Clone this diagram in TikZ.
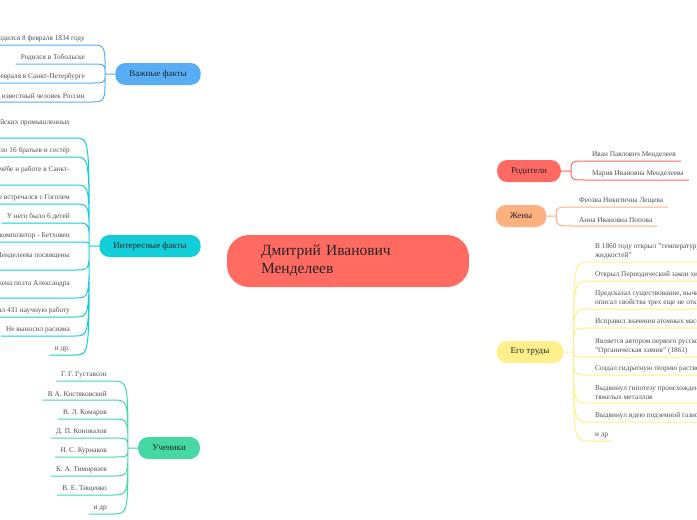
\documentclass[tikz,border=0pt]{standalone}
\usepackage{fontspec}
\setmainfont{Liberation Serif}
\usetikzlibrary{positioning,backgrounds}
\definecolor{mapink}{HTML}{262626}
\definecolor{leafink}{HTML}{505050}
\definecolor{rootred}{HTML}{FF6A61}
\definecolor{factblue}{HTML}{58AEF4}
\definecolor{factcyan}{HTML}{12CED8}
\definecolor{pupilgreen}{HTML}{45D8A2}
\definecolor{parentred}{HTML}{FF6962}
\definecolor{wifeorange}{HTML}{FFB07F}
\definecolor{workyellow}{HTML}{FFF08C}

\begin{document}
\begin{tikzpicture}[x=1pt, y=-1pt,
  every node/.style={font=\fontsize{7.3}{9}\selectfont},
  root/.style={fill=rootred, rounded corners=22pt, minimum height=52pt, text width=174pt, inner xsep=34pt, align=left, text=mapink, font=\fontsize{15.5}{18}\selectfont},
  branch/.style={rounded corners=10pt, minimum height=22pt, inner xsep=14pt, text=mapink, font=\fontsize{9}{11}\selectfont},
  leaf/.style={text=leafink, inner xsep=5pt, inner ysep=3pt, align=left},
  link/.style={line width=1.4pt},
  twig/.style={line width=1pt}]

  \useasboundingbox (0,0) rectangle (697,520);
  \fill[white] (0,0) rectangle (697,520);
  \clip (0,0) rectangle (697,520);

  % centre and main branches
  \node[root] (mend) at (348,261) {Дмитрий Иванович\\Менделеев};
  \node[branch, fill=factblue] (imp) at (158,74) {Важные факты};
  \node[branch, fill=factcyan] (int) at (150,246) {Интересные факты};
  \node[branch, fill=pupilgreen] (stu) at (169,448) {Ученики};
  \node[branch, fill=parentred] (par) at (529,171) {Родители};
  \node[branch, fill=wifeorange] (wiv) at (521,216) {Жены};
  \node[branch, fill=workyellow] (wrk) at (530,352) {Его труды};

  \coordinate[left=10pt of imp] (impv);
  \coordinate[left=10pt of int] (intv);
  \coordinate[left=10pt of stu] (stuv);
  \coordinate[right=10pt of par] (parv);
  \coordinate[right=10pt of wiv] (wivv);
  \coordinate[right=10pt of wrk] (wrkv);

  \begin{scope}[on background layer]
    \draw[link, factblue] ([xshift=38pt]mend.north west) to[out=90,in=0] (imp.east);
    \draw[link, factcyan] ([xshift=4pt,yshift=8pt]mend.west) to[out=180,in=0] (int.east);
    \draw[link, pupilgreen] ([xshift=38pt]mend.south west) to[out=-90,in=0] (stu.east);
    \draw[link, parentred] ([xshift=-34pt]mend.north east) to[out=90,in=180] (par.west);
    \draw[link, wifeorange] ([xshift=-11pt,yshift=-4pt]mend.north east) to[out=90,in=180] (wiv.west);
    \draw[link, workyellow] ([xshift=-11pt,yshift=4pt]mend.south east) to[out=-90,in=180] (wrk.west);
  \end{scope}

  % important facts
  \node[leaf, anchor=south east] (imp1) at (90,45) {Родился 8 февраля 1834 году};
  \node[leaf, anchor=south east] (imp2) at (90,64) {Родился в Тобольске};
  \node[leaf, anchor=south east] (imp3) at (90,83) {Умер 2 февраля в Санкт-Петербурге};
  \node[leaf, anchor=south east] (imp4) at (90,102) {Самый известный человек России};
  \draw[twig, factblue] (imp.west) -- (impv)
    (impv) .. controls (impv |- imp1.south) .. (imp1.south east) -- (imp1.south west)
    (impv) .. controls (impv |- imp2.south) .. (imp2.south east) -- (imp2.south west)
    (impv) .. controls (impv |- imp3.south) .. (imp3.south east) -- (imp3.south west)
    (impv) .. controls (impv |- imp4.south) .. (imp4.south east) -- (imp4.south west);

  % interesting facts
  \node[leaf, anchor=south east] (int1) at (75,138) {Был советником российских промышленных\\предприятий};
  \node[leaf, anchor=south east] (int2) at (75,157) {У него было 16 братьев и сестёр};
  \node[leaf, anchor=south east] (int3) at (75,185) {Жил в бедности при учёбе и работе в Санкт-\\Петербурге};
  \node[leaf, anchor=south east] (int4) at (75,204) {Дважды встречался с Гоголем};
  \node[leaf, anchor=south east] (int5) at (75,223) {У него было 6 детей};
  \node[leaf, anchor=south east] (int6) at (75,242) {Его любимый композитор - Бетховен};
  \node[leaf, anchor=south east] (int7) at (75,270) {Дочери Дмитрия Ивановича Менделеева посвящены\\стихи};
  \node[leaf, anchor=south east] (int8) at (75,298) {Его дочь — жена поэта Александра\\Блока};
  \node[leaf, anchor=south east] (int9) at (75,317) {Написал 431 научную работу};
  \node[leaf, anchor=south east] (int10) at (75,336) {Не выносил расизма};
  \node[leaf, anchor=south east] (int11) at (75,355) {и др.};
  \draw[twig, factcyan] (int.west) -- (intv)
    (intv) .. controls (intv |- int1.south) .. (int1.south east) -- (int1.south west)
    (intv) .. controls (intv |- int2.south) .. (int2.south east) -- (int2.south west)
    (intv) .. controls (intv |- int3.south) .. (int3.south east) -- (int3.south west)
    (intv) .. controls (intv |- int4.south) .. (int4.south east) -- (int4.south west)
    (intv) .. controls (intv |- int5.south) .. (int5.south east) -- (int5.south west)
    (intv) .. controls (intv |- int6.south) .. (int6.south east) -- (int6.south west)
    (intv) .. controls (intv |- int7.south) .. (int7.south east) -- (int7.south west)
    (intv) .. controls (intv |- int8.south) .. (int8.south east) -- (int8.south west)
    (intv) .. controls (intv |- int9.south) .. (int9.south east) -- (int9.south west)
    (intv) .. controls (intv |- int10.south) .. (int10.south east) -- (int10.south west)
    (intv) .. controls (intv |- int11.south) .. (int11.south east) -- (int11.south west);

  % pupils
  \node[leaf, anchor=south east] (stu1) at (112,381) {Г. Г. Густавсон};
  \node[leaf, anchor=south east] (stu2) at (112,400) {В А. Кистяковский};
  \node[leaf, anchor=south east] (stu3) at (112,419) {В. Л. Комаров};
  \node[leaf, anchor=south east] (stu4) at (112,438) {Д. П. Коновалов};
  \node[leaf, anchor=south east] (stu5) at (112,457) {Н. С. Курнаков};
  \node[leaf, anchor=south east] (stu6) at (112,476) {К. А. Тимирязев};
  \node[leaf, anchor=south east] (stu7) at (112,495) {В. Е. Тищенко};
  \node[leaf, anchor=south east] (stu8) at (112,514) {и др};
  \draw[twig, pupilgreen] (stu.west) -- (stuv)
    (stuv) .. controls (stuv |- stu1.south) .. (stu1.south east) -- (stu1.south west)
    (stuv) .. controls (stuv |- stu2.south) .. (stu2.south east) -- (stu2.south west)
    (stuv) .. controls (stuv |- stu3.south) .. (stu3.south east) -- (stu3.south west)
    (stuv) .. controls (stuv |- stu4.south) .. (stu4.south east) -- (stu4.south west)
    (stuv) .. controls (stuv |- stu5.south) .. (stu5.south east) -- (stu5.south west)
    (stuv) .. controls (stuv |- stu6.south) .. (stu6.south east) -- (stu6.south west)
    (stuv) .. controls (stuv |- stu7.south) .. (stu7.south east) -- (stu7.south west)
    (stuv) .. controls (stuv |- stu8.south) .. (stu8.south east) -- (stu8.south west);

  % parents and wives
  \node[leaf, anchor=south west] (par1) at (587,161) {Иван Павлович Менделеев};
  \node[leaf, anchor=south west] (par2) at (587,180) {Мария Ивановна Менделеева};
  \draw[twig, parentred] (par.east) -- (parv)
    (parv) .. controls (parv |- par1.south) .. (par1.south west) -- (par1.south east)
    (parv) .. controls (parv |- par2.south) .. (par2.south west) -- (par2.south east);
  \node[leaf, anchor=south west] (wiv1) at (574,207) {Феозва Никитична Лещева};
  \node[leaf, anchor=south west] (wiv2) at (574,226) {Анна Ивановна Попова};
  \draw[twig, wifeorange] (wiv.east) -- (wivv)
    (wivv) .. controls (wivv |- wiv1.south) .. (wiv1.south west) -- (wiv1.south east)
    (wivv) .. controls (wivv |- wiv2.south) .. (wiv2.south west) -- (wiv2.south east);

  % works
  \node[leaf, anchor=south west] (wrk1) at (590,262) {В 1860 году открыл "температуру абсолютного кипения\\жидкостей"};
  \node[leaf, anchor=south west] (wrk2) at (590,281) {Открыл Периодический закон химических элементов};
  \node[leaf, anchor=south west] (wrk3) at (590,309) {Предсказал существование, вычислил атомные массы и\\описал свойства трех еще не открытых элементов};
  \node[leaf, anchor=south west] (wrk4) at (590,328) {Исправил значения атомных масс многих элементов};
  \node[leaf, anchor=south west] (wrk5) at (590,357) {Является автором первого русского учебника\\"Органическая химия" (1861)};
  \node[leaf, anchor=south west] (wrk6) at (590,375) {Создал гидратную теорию растворов};
  \node[leaf, anchor=south west] (wrk7) at (590,403) {Выдвинул гипотезу происхождения нефти из карбидов\\тяжелых металлов};
  \node[leaf, anchor=south west] (wrk8) at (590,422) {Выдвинул идею подземной газификации угля};
  \node[leaf, anchor=south west] (wrk9) at (590,441) {и др};
  \draw[twig, workyellow] (wrk.east) -- (wrkv)
    (wrkv) .. controls (wrkv |- wrk1.south) .. (wrk1.south west) -- (wrk1.south east)
    (wrkv) .. controls (wrkv |- wrk2.south) .. (wrk2.south west) -- (wrk2.south east)
    (wrkv) .. controls (wrkv |- wrk3.south) .. (wrk3.south west) -- (wrk3.south east)
    (wrkv) .. controls (wrkv |- wrk4.south) .. (wrk4.south west) -- (wrk4.south east)
    (wrkv) .. controls (wrkv |- wrk5.south) .. (wrk5.south west) -- (wrk5.south east)
    (wrkv) .. controls (wrkv |- wrk6.south) .. (wrk6.south west) -- (wrk6.south east)
    (wrkv) .. controls (wrkv |- wrk7.south) .. (wrk7.south west) -- (wrk7.south east)
    (wrkv) .. controls (wrkv |- wrk8.south) .. (wrk8.south west) -- (wrk8.south east)
    (wrkv) .. controls (wrkv |- wrk9.south) .. (wrk9.south west) -- (wrk9.south east);

\end{tikzpicture}
\end{document}
